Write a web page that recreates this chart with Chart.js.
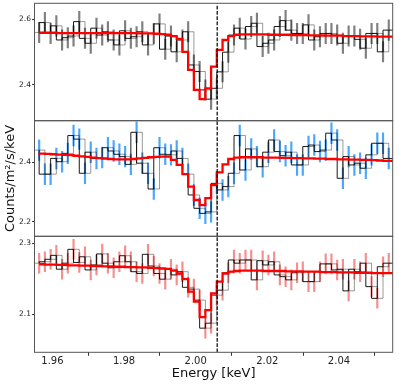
<!DOCTYPE html>
<html>
<head>
<meta charset="utf-8">
<script src="https://cdn.jsdelivr.net/npm/chart.js@4.4.1/dist/chart.umd.min.js"></script>
<style>
  body { margin: 0; background: #fff; }
  #wrap { position: relative; width: 399px; height: 384px; }
  canvas { position: absolute; left: 0; top: 0; }
</style>
</head>
<body>
<div id="wrap">
  <canvas id="top" width="399" height="384"></canvas>
  <canvas id="mid" width="399" height="384"></canvas>
  <canvas id="bot" width="399" height="384"></canvas>
</div>
<script>
// energy grid (keV): regular bins
const binStart = 1.9563;
const binWidth = 0.0016;
const nBins = 62;
const energy = Array.from({ length: nBins }, (_, i) => +(binStart + binWidth * i).toFixed(5));
const lineEnergy = 2.006;
const xTicks = [1.96, 1.98, 2.0, 2.02, 2.04];

// top panel
const topData = [
  2.560, 2.590, 2.557, 2.580, 2.537, 2.544, 2.549, 2.593, 2.542, 2.527,
  2.573, 2.552, 2.562, 2.537, 2.522, 2.565, 2.542, 2.547, 2.562, 2.522,
  2.557, 2.586, 2.509, 2.549, 2.501, 2.537, 2.562, 2.461, 2.441, 2.385,
  2.357, 2.390, 2.440, 2.500, 2.552, 2.573, 2.540, 2.578, 2.588, 2.517,
  2.527, 2.537, 2.578, 2.596, 2.567, 2.557, 2.557, 2.583, 2.537, 2.547,
  2.557, 2.557, 2.552, 2.527, 2.549, 2.549, 2.539, 2.512, 2.557, 2.557,
  2.501, 2.567];
const topModel = [
  2.559, 2.559, 2.559, 2.559, 2.558, 2.558, 2.558, 2.558, 2.558, 2.558,
  2.558, 2.558, 2.558, 2.558, 2.558, 2.558, 2.558, 2.558, 2.557, 2.557,
  2.557, 2.556, 2.555, 2.553, 2.549, 2.540, 2.501, 2.446, 2.385, 2.357,
  2.390, 2.456, 2.507, 2.537, 2.549, 2.553, 2.554, 2.554, 2.554, 2.554,
  2.554, 2.553, 2.553, 2.553, 2.553, 2.552, 2.552, 2.552, 2.551, 2.551,
  2.551, 2.550, 2.550, 2.550, 2.549, 2.549, 2.549, 2.548, 2.548, 2.548,
  2.547, 2.547];
const topErr = 0.031;
const topTicks = [2.4, 2.6];

// middle panel
const midData = [
  2.441, 2.360, 2.360, 2.413, 2.402, 2.430, 2.490, 2.478, 2.363, 2.434,
  2.413, 2.416, 2.449, 2.438, 2.427, 2.419, 2.393, 2.501, 2.397, 2.363,
  2.310, 2.449, 2.427, 2.425, 2.438, 2.413, 2.360, 2.290, 2.245, 2.228,
  2.233, 2.329, 2.307, 2.318, 2.363, 2.490, 2.374, 2.445, 2.419, 2.385,
  2.434, 2.475, 2.436, 2.422, 2.434, 2.391, 2.391, 2.453, 2.458, 2.436,
  2.441, 2.498, 2.475, 2.346, 2.419, 2.391, 2.397, 2.380, 2.425, 2.464,
  2.464, 2.413];
const midModel = [
  2.430, 2.429, 2.428, 2.427, 2.426, 2.425, 2.424, 2.422, 2.420, 2.418,
  2.416, 2.414, 2.412, 2.411, 2.410, 2.410, 2.410, 2.411, 2.413, 2.415,
  2.417, 2.418, 2.419, 2.419, 2.408, 2.391, 2.360, 2.318, 2.273, 2.256,
  2.279, 2.323, 2.366, 2.393, 2.411, 2.416, 2.417, 2.417, 2.417, 2.417,
  2.416, 2.416, 2.416, 2.415, 2.415, 2.414, 2.414, 2.413, 2.413, 2.412,
  2.412, 2.411, 2.411, 2.410, 2.410, 2.409, 2.409, 2.408, 2.408, 2.407,
  2.406, 2.405];
const midErr = 0.035;
const midTicks = [2.2, 2.4];

// bottom panel
const botData = [
  2.244, 2.248, 2.255, 2.266, 2.227, 2.244, 2.283, 2.246, 2.262, 2.225,
  2.239, 2.270, 2.244, 2.231, 2.248, 2.265, 2.248, 2.220, 2.215, 2.269,
  2.236, 2.215, 2.199, 2.227, 2.211, 2.220, 2.176, 2.171, 2.140, 2.061,
  2.075, 2.154, 2.168, 2.217, 2.253, 2.244, 2.253, 2.253, 2.197, 2.251,
  2.239, 2.248, 2.211, 2.206, 2.197, 2.217, 2.220, 2.192, 2.192, 2.220,
  2.242, 2.242, 2.225, 2.227, 2.166, 2.227, 2.220, 2.244, 2.178, 2.145,
  2.234, 2.244];
const botModel = [
  2.241, 2.241, 2.240, 2.240, 2.239, 2.239, 2.238, 2.238, 2.237, 2.237,
  2.236, 2.236, 2.235, 2.235, 2.234, 2.234, 2.233, 2.233, 2.232, 2.232,
  2.231, 2.230, 2.229, 2.228, 2.223, 2.215, 2.199, 2.164, 2.136, 2.092,
  2.112, 2.159, 2.192, 2.215, 2.220, 2.222, 2.223, 2.223, 2.223, 2.223,
  2.222, 2.222, 2.222, 2.222, 2.221, 2.221, 2.221, 2.220, 2.220, 2.220,
  2.219, 2.219, 2.219, 2.218, 2.218, 2.218, 2.217, 2.217, 2.217, 2.216,
  2.216, 2.216];
const botErr = 0.028;
const botTicks = [2.1, 2.3];

Chart.defaults.font.family = "DejaVu Sans";

// box around each panel
const frame = {
  id: "frame",
  afterDatasetsDraw(chart) {
    const a = chart.chartArea;
    const c = chart.ctx;
    c.save();
    c.strokeStyle = "#555";
    c.lineWidth = 1;
    c.strokeRect(a.left, a.top, a.right - a.left, a.bottom - a.top);
    c.restore();
  },
};

function panel(id, o) {
  const last = nBins - 1;
  const pts = energy.map((e, i) => ({ x: e, y: o.data[i] }));
  const model = energy.map((e, i) => ({ x: e, y: o.model[i] }));
  new Chart(document.getElementById(id), {
    type: "line",
    data: {
      datasets: [
        {
          type: "bar",
          data: energy.map((e, i) => ({ x: e, y: [o.data[i] - o.err, o.data[i] + o.err] })),
          backgroundColor: o.errColor,
          barThickness: 1.5,
          grouped: false,
          order: 4,
        },
        {
          data: pts.concat([{ x: energy[last] + binWidth, y: o.data[last] }]),
          stepped: "after",
          borderColor: "rgba(0,0,0,0.9)",
          borderWidth: 1,
          order: 3,
        },
        {
          data: [{ x: energy[0] - binWidth, y: o.data[0] }].concat(pts),
          stepped: "before",
          borderColor: "rgba(0,0,0,0.4)",
          borderWidth: 1,
          order: 3,
        },
        {
          data: model.concat([{ x: energy[last] + binWidth, y: o.model[last] }]),
          stepped: "after",
          borderColor: "#ff0000",
          borderWidth: 2.3,
          order: 2,
        },
        {
          data: [{ x: lineEnergy, y: o.yMin }, { x: lineEnergy, y: o.yMax }],
          borderColor: "#000",
          borderWidth: 1.2,
          borderDash: [3.7, 1.6],
          order: 1,
        },
      ],
    },
    options: {
      responsive: false,
      animation: false,
      devicePixelRatio: 1,
      elements: { point: { radius: 0 } },
      plugins: { legend: { display: false }, tooltip: { enabled: false } },
      layout: { padding: { left: 0, right: 6.3, top: o.top, bottom: o.bottom } },
      scales: {
        x: {
          type: "linear",
          min: 1.955,
          max: 2.055,
          offset: false,
          display: o.showX,
          afterBuildTicks: (s) => { s.ticks = xTicks.map((v) => ({ value: v })); },
          afterFit: (s) => {
            if (o.showX) s.height = 31.7;
            s.paddingLeft = 0;
            s.paddingRight = 0;
          },
          ticks: {
            padding: 0,
            maxRotation: 0,
            autoSkip: false,
            color: "#222",
            font: { size: 10 },
            callback: (v) => v.toFixed(2),
          },
          grid: { drawOnChartArea: false, tickLength: 3.5, tickColor: "#333" },
          border: { display: false },
          title: {
            display: true,
            text: "Energy [keV]",
            color: "#111",
            font: { size: 13 },
            padding: { top: 0, bottom: 3 },
          },
        },
        y: {
          min: o.yMin,
          max: o.yMax,
          afterBuildTicks: (s) => { s.ticks = o.ticks.map((v) => ({ value: v })); },
          afterFit: (s) => { s.width = 34.5; s.paddingTop = 0; s.paddingBottom = 0; },
          ticks: {
            padding: 1,
            color: "#222",
            font: { size: 7.5 },
            callback: (v) => v.toFixed(1),
          },
          grid: { drawOnChartArea: false, tickLength: 2.5, tickColor: "#333" },
          border: { display: false },
          title: {
            display: o.showTitle,
            text: "Counts/m²/s/keV",
            color: "#111",
            font: { size: 13 },
            padding: { top: 3, bottom: 0 },
          },
        },
      },
    },
    plugins: [frame],
  });
}

panel("top", {
  data: topData, model: topModel, err: topErr, ticks: topTicks,
  errColor: "rgba(0,0,0,0.5)", yMin: 2.2913, yMax: 2.6487,
  top: 3.3, bottom: 263.3, showX: false, showTitle: false,
});
panel("mid", {
  data: midData, model: midModel, err: midErr, ticks: midTicks,
  errColor: "rgba(30,144,255,0.8)", yMin: 2.1508, yMax: 2.540,
  top: 120.7, bottom: 147.7, showX: false, showTitle: true,
});
panel("bot", {
  data: botData, model: botModel, err: botErr, ticks: botTicks,
  errColor: "rgba(240,50,50,0.55)", yMin: 1.993, yMax: 2.3197,
  top: 236.3, bottom: 0, showX: true, showTitle: false,
});
</script>
</body>
</html>
